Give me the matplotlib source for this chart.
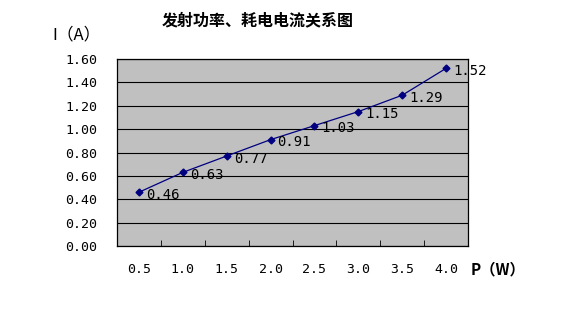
import numpy as np
import matplotlib.pyplot as plt

power = ['0.5', '1.0', '1.5', '2.0', '2.5', '3.0', '3.5', '4.0']
current = [0.46, 0.63, 0.77, 0.91, 1.03, 1.15, 1.29, 1.52]
yticks = [0.0, 0.2, 0.4, 0.6, 0.8, 1.0, 1.2, 1.4, 1.6]

num_font = 'DejaVu Sans Mono'
cjk = ['Noto Sans CJK SC', 'DejaVu Sans']

fig = plt.figure(figsize=(5.64, 3.17), dpi=100)
ax = fig.add_axes([117/564, 1-246/317, 351/564, 187/317])
ax.set_facecolor('#c0c0c0')

idx = np.arange(len(power))
ax.plot(idx, current, color='#000080', lw=0.9, marker='D', ms=3.5,
        mfc='#000080', mec='#000080', zorder=3)
for i, v in zip(idx, current):
    ax.annotate('%.2f' % v, (i, v), xytext=(5, -2), textcoords='offset points',
                ha='left', va='center', fontsize=10, family=num_font)

ax.set_xlim(-0.5, len(power) - 0.5)
ax.set_ylim(0, 1.6)
ax.set_yticks(yticks)
ax.set_yticklabels(['%.2f' % t for t in yticks], family=num_font, fontsize=9.5)
ax.set_xticks(idx)
ax.set_xticklabels(power, family=num_font, fontsize=9.5)
ax.set_xticks(idx[:-1] + 0.5, minor=True)
ax.tick_params(axis='x', which='major', length=0, pad=12)
ax.tick_params(axis='x', which='minor', length=4, direction='in')
ax.tick_params(axis='y', length=0, pad=14)
ax.grid(axis='y', color='black', lw=0.8)
ax.set_axisbelow(True)
for s in ax.spines.values():
    s.set_color('black')
    s.set_linewidth(0.9)

fig.text(258/564, 1-20/317, '发射功率、耗电电流关系图', ha='center', va='center',
         fontsize=11.5, fontweight='bold', family=cjk)
fig.text(52/564, 1-35/317, 'I（A）', ha='left', va='center', fontsize=12, family=cjk)
fig.text(471/564, 1-269/317, 'P（W）', ha='left', va='center', fontsize=11,
         fontweight='bold', family=cjk)

plt.savefig('out.png')
